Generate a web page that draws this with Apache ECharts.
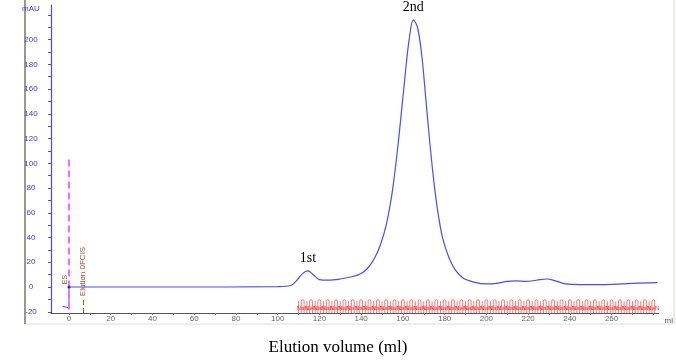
<!DOCTYPE html>
<html>
<head>
<meta charset="utf-8">
<script src="https://cdn.jsdelivr.net/npm/echarts@6/dist/echarts.min.js"></script>
<style>
	html, body { margin: 0; padding: 0; background: #fff; }
	#chart { width: 676px; height: 362px; }
</style>
</head>
<body>
<div id="chart"></div>
<script>
// 进样段(折线)
var stepVol = [-3.2, -2.8, 0, 0, 2];
var stepMau = [-15.5, -16.8, -16.8, 0, 0];

// 色谱曲线
var vol = [2, 50, 100, 106, 109, 112, 114.5, 117, 120, 124, 130, 136, 140, 143, 146, 149, 152, 155, 158, 161, 163, 165,
	167, 169, 171, 173, 175, 177, 179, 182, 185, 189, 194, 200, 205, 210, 214, 219, 224, 229, 233, 238, 245, 255,
	265, 270, 282];
var mau = [0, 0, 0.3, 1, 5, 11, 13, 10, 6, 5.5, 6.5, 8.5, 11, 15, 22, 33, 50, 78, 120, 170, 200, 216,
	210, 188, 152, 115, 83, 58, 40, 24, 14, 7, 4, 2.5, 3, 4.5, 5, 4.5, 5.5, 6.5, 5, 2.5, 2, 2,
	2.5, 3, 3.5];

// 峰标注
var peakVol = [114.5, 165];
var peakMau = [13, 216];
var peakName = ['1st', '2nd'];

// 收集管标签
var fracLabels = ['A2', 'A5', 'A8', 'A11', 'A14', 'B9', 'B6', 'B3', 'C1', 'C4', 'C7', 'C10', 'C13', 'D12', 'D9', 'D6',
	'D3', 'E1', 'E4', 'E7', 'E10', 'E13', 'F12', 'F9', 'F6', 'F3', 'G1', 'G4', 'G7', 'G10', 'G13', 'H12', 'H9', 'H6',
	'H3', 'I1', 'I4', 'I7', 'I10', 'I13', 'J12', 'J9', 'J6'];
var fracVol = [110, 114, 118, 122, 126, 130, 134, 138, 142, 146, 150, 154, 158, 162, 166, 170, 174, 178, 182, 186,
	190, 194, 198, 202, 206, 210, 214, 218, 222, 226, 230, 234, 238, 242, 246, 250, 254, 258, 262, 266, 270, 274, 278];

var xLabelVals = [0, 20, 40, 60, 80, 100, 120, 140, 160, 180, 200, 220, 240, 260];
var xTickVals = [0, 10, 20, 30, 40, 50, 60, 70, 80, 90, 100, 110, 120, 130, 140, 150, 160, 170, 180, 190, 200, 210,
	220, 230, 240, 250, 260, 270, 280];
var yLabelVals = [-20, 0, 20, 40, 60, 80, 100, 120, 140, 160, 180, 200, 220];
var yTickVals = [-20, -10, 0, 10, 20, 30, 40, 50, 60, 70, 80, 90, 100, 110, 120, 130, 140, 150, 160, 170, 180, 190,
	200, 210, 220];

var lineData = vol.map(function(v, i) { return [v, mau[i]]; });
var stepData = stepVol.map(function(v, i) { return [v, stepMau[i]]; });
var fracData = fracVol.map(function(v, i) { return [v, fracLabels[i]]; });

var myChart = echarts.init(document.getElementById('chart'));

var option = {
	animation: false,
	backgroundColor: '#ffffff',
	grid: {
		left: 51,
		right: 16,
		top: 5,
		bottom: 49
	},
	xAxis: {
		type: 'value',
		min: -8.6,
		max: 282.5,
		name: 'ml',
		nameGap: 6,
		nameTextStyle: {
			color: '#555',
			fontSize: 8,
			fontFamily: 'Arial',
			verticalAlign: 'top',
			padding: [4, 0, 0, 0]
		},
		splitLine: { show: false },
		axisLine: { onZero: false, lineStyle: { color: '#555', width: 1 } },
		axisTick: { length: 2, customValues: xTickVals, lineStyle: { color: '#777' } },
		axisLabel: {
			customValues: xLabelVals,
			color: '#666',
			fontSize: 8,
			fontFamily: 'Arial',
			margin: 2
		}
	},
	yAxis: {
		type: 'value',
		min: -21,
		max: 228,
		splitLine: { show: false },
		axisLine: { onZero: false, lineStyle: { color: '#4848ff', width: 1.2 } },
		axisTick: { length: 3, inside: false, customValues: yTickVals, lineStyle: { color: '#4848ff' } },
		axisLabel: {
			customValues: yLabelVals,
			color: '#3a3aff',
			fontSize: 8,
			fontFamily: 'Arial',
			align: 'center',
			margin: 20,
			formatter: function(v) {
				return v === 220 ? '{u|mAU}' : v;
			},
			rich: {
				u: { color: '#3a3aff', fontSize: 8, fontFamily: 'Arial', padding: [0, 0, 12, 0] }
			}
		}
	},
	series: [{
			name: 'step',
			type: 'line',
			data: stepData,
			symbol: 'none',
			lineStyle: { color: '#4a4aff', width: 1 },
			markLine: {
				symbol: 'none',
				silent: true,
				label: { show: false },
				data: [
					[{ coord: [0, 103], lineStyle: { color: '#ff66ff', type: [7, 4], width: 2 } }, { coord: [0, -21] }],
					[{ coord: [6.7, -21], lineStyle: { color: '#a0522d', type: [5, 3], width: 1 } },
						{ coord: [6.7, -9], label: { show: true, position: 'end', formatter: 'Elution 0FCIS', rotate: 90,
							align: 'left', verticalAlign: 'middle', color: '#a0522d', fontSize: 8, fontFamily: 'Arial', distance: 2 } }]
				]
			},
			markPoint: {
				symbol: 'circle',
				symbolSize: 3,
				itemStyle: { color: '#2020c0' },
				data: [{ coord: [0, 0], value: 'ES' }],
				label: {
					show: true,
					position: 'top',
					rotate: 90,
					offset: [5, 0],
					color: '#a0522d',
					fontSize: 7,
					fontFamily: 'Arial',
					distance: 1,
					formatter: '{c}'
				}
			}
		},
		{
			name: 'UV',
			type: 'line',
			data: lineData,
			smooth: 0.35,
			symbol: 'none',
			lineStyle: { color: '#4a4aff', width: 1.2 },
			markPoint: {
				symbol: 'circle',
				symbolSize: 0,
				data: peakVol.map(function(v, i) {
					return { coord: [v, peakMau[i]], value: peakName[i] };
				}),
				label: {
					show: true,
					position: 'top',
					distance: 6,
					color: '#000',
					fontSize: 14,
					fontFamily: 'Liberation Serif',
					formatter: '{c}'
				}
			}
		},
		{
			name: 'fractions',
			type: 'custom',
			data: fracData,
			renderItem: function(params, api) {
				var x0 = api.coord([api.value(0), -21]);
				var step = api.size([1.33, 0])[0];
				var yTop = api.coord([0, -9])[1];
				var children = [];
				for (var k = 0; k < 3; k++) {
					var x = x0[0] + k * step;
					children.push({
						type: 'line',
						shape: { x1: x, y1: x0[1], x2: x, y2: yTop + 3 },
						style: { stroke: '#ff5050', lineWidth: 0.8 }
					});
				}
				children.push({
					type: 'arc',
					shape: { cx: x0[0] + step * 1.5, cy: yTop + 3, r: step * 0.5, startAngle: Math.PI, endAngle: 0 },
					style: { stroke: '#ff5050', fill: null, lineWidth: 0.8 }
				});
				children.push({
					type: 'text',
					style: {
						text: api.value(1),
						x: x0[0] + step * 1.5,
						y: x0[1] - 2,
						fill: '#ff3030',
						fontSize: 6,
						fontFamily: 'Arial',
						align: 'center',
						verticalAlign: 'bottom'
					}
				});
				return { type: 'group', children: children };
			}
		}
	],
	graphic: [{
			type: 'rect',
			shape: { x: 25, y: -2, width: 649, height: 326 },
			style: { fill: null, stroke: '#dcdcd4', lineWidth: 1 },
			silent: true
		},
		{
			type: 'line',
			shape: { x1: 25, y1: 0, x2: 25, y2: 324 },
			style: { stroke: '#9a9a8c', lineWidth: 2 },
			silent: true
		},
		{
			type: 'text',
			left: 'center',
			top: 339,
			style: {
				text: 'Elution volume (ml)',
				fill: '#000',
				fontSize: 17,
				fontFamily: 'Liberation Serif'
			}
		},
		{
			type: 'text',
			x: 3,
			y: 170,
			rotation: Math.PI / 2,
			style: {
				text: 'mAU',
				fill: '#000',
				fontSize: 17,
				fontFamily: 'Liberation Serif',
				align: 'center',
				verticalAlign: 'bottom'
			}
		}
	]
};

myChart.setOption(option);
</script>
</body>
</html>
